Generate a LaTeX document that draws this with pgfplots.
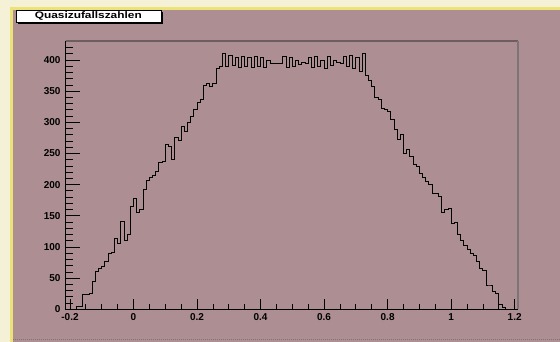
\documentclass[border=0pt]{standalone}
\usepackage{fontspec}
\setmainfont{Liberation Sans}
\usepackage{pgfplots}
\pgfplotsset{compat=1.18}

\definecolor{canvasbg}{RGB}{173,143,147}
\definecolor{paleedge}{RGB}{244,241,214}
\definecolor{yellowedge}{RGB}{236,226,120}
\definecolor{framedark}{RGB}{110,92,96}
\definecolor{framegray}{RGB}{125,116,120}

\begin{document}
\begin{tikzpicture}[x=1pt,y=1pt]
\useasboundingbox (0,0) rectangle (560,342);
% canvas with bevelled border
\fill[canvasbg] (0,0) rectangle (560,342);
\fill[paleedge] (0,335) rectangle (560,342);
\fill[paleedge] (0,0) rectangle (10,342);
\fill[yellowedge] (10,332) rectangle (560,335);
\fill[yellowedge] (10,0) rectangle (13,332);
\draw[framegray, dash pattern=on 1pt off 1pt] (13,3) -- (560,3);

% histogram frame
\begin{axis}[
  at={(65.7pt,32.7pt)}, anchor=south west,
  scale only axis, width=452.3pt, height=268.3pt,
  xmin=-0.2135, xmax=1.2105, ymin=0, ymax=430.5,
  axis line style={draw=none},
  tick align=inside,
  xtick pos=bottom, ytick pos=left,
  xtick={-0.2,0,0.2,0.4,0.6,0.8,1,1.2},
  xticklabels={-0.2,0,0.2,0.4,0.6,0.8,1,1.2},
  minor xtick={-0.15,-0.1,-0.05,0.05,0.1,0.15,0.25,0.3,0.35,0.45,0.5,0.55,0.65,0.7,0.75,0.85,0.9,0.95,1.05,1.1,1.15},
  ytick={0,50,100,150,200,250,300,350,400},
  minor ytick={10,20,30,40,60,70,80,90,110,120,130,140,160,170,180,190,210,220,230,240,260,270,280,290,310,320,330,340,360,370,380,390,410,420,430},
  xtick style={black, line width=0.8pt, /pgfplots/major tick length=10pt, /pgfplots/minor tick length=5pt},
  ytick style={black, line width=0.8pt, /pgfplots/major tick length=14pt, /pgfplots/minor tick length=7pt},
  /pgf/number format/assume math mode=true,
  ticklabel style={font=\fontsize{10}{10}\selectfont\bfseries},
  yticklabel style={inner sep=0pt, xshift=-5pt},
  xticklabel style={inner sep=0pt, yshift=-4pt},
  clip=false,
]
\addplot[const plot, black, line width=0.9pt] coordinates {
(-0.20,0) (-0.19,0) (-0.18,4) (-0.17,5) (-0.16,24) (-0.15,24) (-0.14,26) (-0.13,45) (-0.12,60) (-0.11,66)
(-0.10,68) (-0.09,76) (-0.08,90) (-0.07,92) (-0.06,114) (-0.05,106) (-0.04,141) (-0.03,111) (-0.02,120) (-0.01,165)
(0.00,178) (0.01,155) (0.02,160) (0.03,192) (0.04,207) (0.05,211) (0.06,214) (0.07,221) (0.08,235) (0.09,238)
(0.10,264) (0.11,262) (0.12,240) (0.13,275) (0.14,271) (0.15,293) (0.16,285) (0.17,300) (0.18,310) (0.19,320)
(0.20,332) (0.21,336) (0.22,359) (0.23,363) (0.24,357) (0.25,362) (0.26,386) (0.27,390) (0.28,410) (0.29,390)
(0.30,408) (0.31,392) (0.32,404) (0.33,388) (0.34,406) (0.35,390) (0.36,404) (0.37,388) (0.38,406) (0.39,390)
(0.40,404) (0.41,388) (0.42,400) (0.43,395) (0.44,394) (0.45,395) (0.46,394) (0.47,406) (0.48,388) (0.49,404)
(0.50,390) (0.51,400) (0.52,393) (0.53,396) (0.54,394) (0.55,404) (0.56,388) (0.57,405) (0.58,390) (0.59,400)
(0.60,387) (0.61,406) (0.62,392) (0.63,400) (0.64,396) (0.65,394) (0.66,406) (0.67,390) (0.68,408) (0.69,386)
(0.70,404) (0.71,382) (0.72,410) (0.73,375) (0.74,367) (0.75,358) (0.76,340) (0.77,336) (0.78,322) (0.79,320)
(0.80,318) (0.81,304) (0.82,288) (0.83,272) (0.84,280) (0.85,250) (0.86,256) (0.87,246) (0.88,232) (0.89,230)
(0.90,218) (0.91,212) (0.92,205) (0.93,200) (0.94,186) (0.95,186) (0.96,181) (0.97,155) (0.98,160) (0.99,162)
(1.00,138) (1.01,140) (1.02,120) (1.03,110) (1.04,103) (1.05,96) (1.06,89) (1.07,86) (1.08,76) (1.09,65)
(1.10,62) (1.11,39) (1.12,39) (1.13,28) (1.14,26) (1.15,7) (1.16,3) (1.17,0) (1.18,0) (1.19,0)
(1.20,0)
};
% frame: dark top and right edges, black axes on the left and bottom
\draw[framedark, line width=1.6pt] (rel axis cs:0,1) -- (rel axis cs:1,1);
\draw[framegray, line width=1.8pt] (rel axis cs:1,1) -- (rel axis cs:1,0);
\draw[black, line width=1.4pt] (rel axis cs:0,1) -- (rel axis cs:0,0) -- (rel axis cs:1,0);
\end{axis}

% title box with drop shadow
\fill[black] (17.7,318) rectangle (163,330);
\fill[white] (15.7,320) rectangle (161,332);
\draw[black, line width=0.4pt] (15.7,320) rectangle (161,332);
\node[inner sep=0pt, xscale=1.25] at (88.3,326) {\fontsize{9.5}{9.5}\selectfont\bfseries Quasizufallszahlen};
\end{tikzpicture}
\end{document}
